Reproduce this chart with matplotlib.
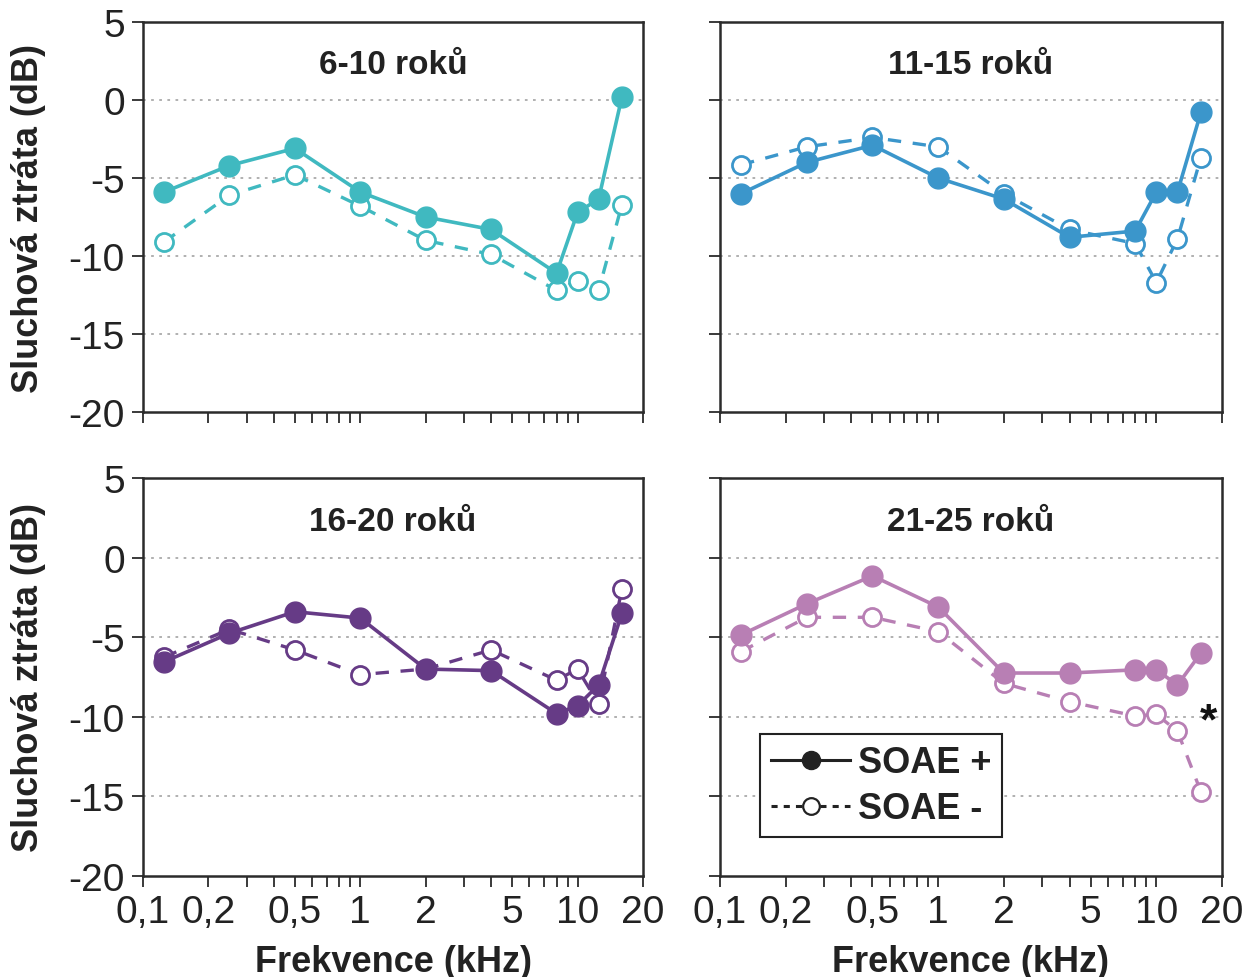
import numpy as np
import matplotlib
matplotlib.use('Agg')
import matplotlib.pyplot as plt
from matplotlib.ticker import FixedLocator, FixedFormatter, NullFormatter
from matplotlib.lines import Line2D

plt.rcParams['font.family'] = ['Liberation Sans Narrow', 'Liberation Sans', 'DejaVu Sans']

# frequencies (kHz)
freqs = [0.125, 0.25, 0.5, 1, 2, 4, 8, 10, 12.5, 16]

groups = ['6-10 roků', '11-15 roků', '16-20 roků', '21-25 roků']
colors = ['#40b9c0', '#3b96cb', '#663b86', '#b87fb4']

soae_plus_6_10 = [-5.9, -4.2, -3.1, -5.9, -7.5, -8.3, -11.1, -7.2, -6.35, 0.2]
soae_minus_6_10 = [-9.1, -6.1, -4.8, -6.8, -9.0, -9.9, -12.2, -11.6, -12.2, -6.7]

soae_plus_11_15 = [-6.0, -4.0, -2.9, -5.0, -6.35, -8.8, -8.4, -5.9, -5.9, -0.8]
soae_minus_11_15 = [-4.15, -3.0, -2.4, -3.0, -6.0, -8.3, -9.2, -11.7, -8.9, -3.7]

soae_plus_16_20 = [-6.55, -4.75, -3.4, -3.8, -7.0, -7.1, -9.8, -9.3, -8.0, -3.5]
soae_minus_16_20 = [-6.25, -4.5, -5.8, -7.35, -7.0, -5.8, -7.7, -7.0, -9.2, -1.95]

soae_plus_21_25 = [-4.85, -2.9, -1.15, -3.1, -7.25, -7.25, -7.05, -7.05, -8.0, -6.0]
soae_minus_21_25 = [-5.9, -3.75, -3.75, -4.65, -7.9, -9.05, -9.95, -9.85, -10.9, -14.7]

plus_series = [soae_plus_6_10, soae_plus_11_15, soae_plus_16_20, soae_plus_21_25]
minus_series = [soae_minus_6_10, soae_minus_11_15, soae_minus_16_20, soae_minus_21_25]

x_ticks = [0.1, 0.2, 0.5, 1, 2, 5, 10, 20]
x_tick_labels = ['0,1', '0,2', '0,5', '1', '2', '5', '10', '20']
y_ticks = [5, 0, -5, -10, -15, -20]
y_tick_labels = ['5', '0', '-5', '-10', '-15', '-20']

fig = plt.figure(figsize=(12.56, 9.78), dpi=100)

W, H = 1256.0, 978.0
# axes boxes in pixels: left, top, right, bottom
boxes = [(143, 23, 643, 413),
         (720, 23, 1222, 413),
         (143, 479, 643, 877),
         (720, 479, 1222, 877)]

spine_col = '#2b2b2b'
bold_family = ['Liberation Sans', 'DejaVu Sans']
axes = []
for i, (l, t, r, b) in enumerate(boxes):
    ax = fig.add_axes([l / W, 1 - b / H, (r - l) / W, (b - t) / H])
    axes.append(ax)
    ax.set_xscale('log')
    ax.set_xlim(0.1, 20)
    ax.set_ylim(-20, 5)

    for y in [0, -5, -10, -15]:
        ax.axhline(y, color='#aaaaaa', linestyle=(0, (1.5, 3)), linewidth=1.3, zorder=0)

    col = colors[i]
    ax.plot(freqs, minus_series[i], color=col, linestyle=(0, (4, 3.5)), linewidth=2.4,
            marker='o', markersize=13, markerfacecolor='white', markeredgecolor=col,
            markeredgewidth=2.0, zorder=3)
    ax.plot(freqs, plus_series[i], color=col, linestyle='-', linewidth=2.6,
            marker='o', markersize=15, markerfacecolor=col, markeredgecolor=col, zorder=4)

    ax.text(0.5, 0.89, groups[i], transform=ax.transAxes, ha='center', va='center',
            fontsize=24, fontweight='bold', color='#222222', family=bold_family)

    ax.xaxis.set_major_locator(FixedLocator(x_ticks))
    minor = [k * 0.1 for k in range(3, 10) if k != 5] + [3, 4, 6, 7, 8, 9]
    ax.xaxis.set_minor_locator(FixedLocator(minor))
    ax.xaxis.set_minor_formatter(NullFormatter())
    ax.yaxis.set_major_locator(FixedLocator(y_ticks))
    ax.tick_params(which='both', direction='out', length=8, width=1.3, color=spine_col,
                   labelsize=28, labelcolor='#222222', pad=5)
    for s in ax.spines.values():
        s.set_color(spine_col)
        s.set_linewidth(1.8)

    if i >= 2:
        ax.xaxis.set_major_formatter(FixedFormatter(x_tick_labels))
        ax.set_xlabel('Frekvence (kHz)', fontsize=26, fontweight='bold', color='#222222',
                      family=bold_family, labelpad=10)
    else:
        ax.xaxis.set_major_formatter(NullFormatter())
    if i % 2 == 0:
        ax.yaxis.set_major_formatter(FixedFormatter(y_tick_labels))
        ax.set_ylabel('Sluchová ztráta (dB)', fontsize=26, fontweight='bold', color='#222222',
                      family=bold_family, labelpad=16)
    else:
        ax.yaxis.set_major_formatter(NullFormatter())

# legend and significance mark in the last panel
ax = axes[3]
handles = [Line2D([], [], color='#222222', linestyle='-', linewidth=2.2, marker='o',
                  markersize=13, markerfacecolor='#222222'),
           Line2D([], [], color='#222222', linestyle=(0, (2, 2)), linewidth=2.2, marker='o',
                  markersize=12, markerfacecolor='white', markeredgewidth=1.6)]
leg = ax.legend(handles, ['SOAE +', 'SOAE -'], loc='lower left', bbox_to_anchor=(0.08, 0.098),
                borderaxespad=0, fancybox=False, framealpha=1, edgecolor='#222222',
                handlelength=2.2, handletextpad=0.2, borderpad=0.3, labelspacing=0.3,
                prop={'size': 26, 'weight': 'bold', 'family': bold_family})
leg.get_frame().set_linewidth(1.5)
for t in leg.get_texts():
    t.set_color('#222222')

ax.text(17.3, -10.3, '*', ha='center', va='center', fontsize=32, fontweight='bold',
        color='#111111', family=bold_family)

fig.savefig('out.png', dpi=100)
